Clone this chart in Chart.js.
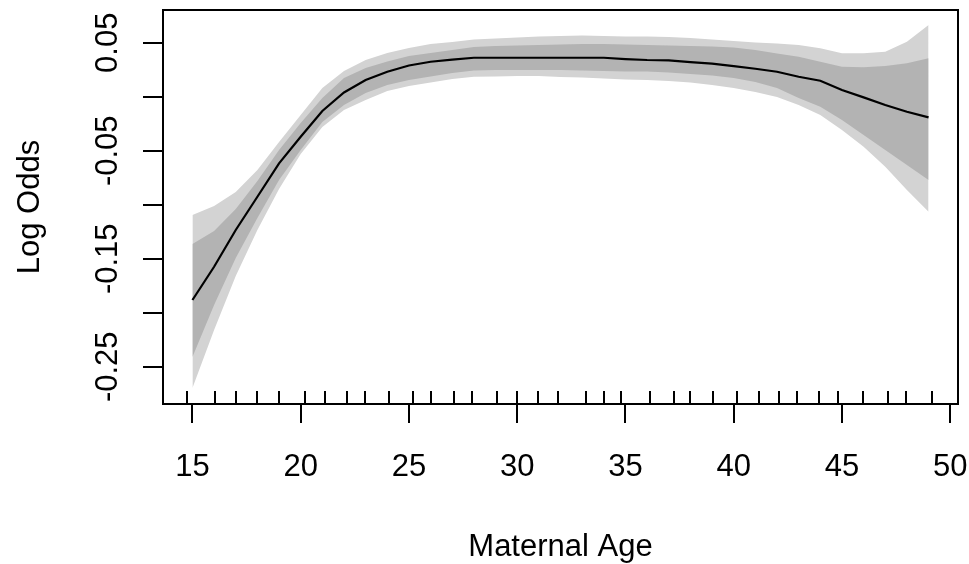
<!DOCTYPE html>
<html>
<head>
<meta charset="utf-8">
<script src="https://cdn.jsdelivr.net/npm/chart.js@4"></script>
<style>
  body { margin: 0; background: #fff; }
  #wrap { width: 969px; height: 564px; }
</style>
</head>
<body>
<div id="wrap"><canvas id="myChart" width="969" height="564"></canvas></div>
<script>
// maternal age 15..49, smooth term with two confidence bands
var ages = [15, 16, 17, 18, 19, 20, 21, 22, 23, 24, 25, 26, 27, 28, 29, 30, 31, 32,
  33, 34, 35, 36, 37, 38, 39, 40, 41, 42, 43, 44, 45, 46, 47, 48, 49];
var fit = [-0.1882, -0.1574, -0.1234, -0.0926, -0.0617, -0.0370, -0.0132, 0.0039,
  0.0155, 0.0231, 0.0289, 0.0324, 0.0344, 0.0361, 0.0361, 0.0361, 0.0361, 0.0361,
  0.0361, 0.0361, 0.0349, 0.0340, 0.0337, 0.0321, 0.0306, 0.0284, 0.0259, 0.0231,
  0.0185, 0.0148, 0.0062, -0.0006, -0.0077, -0.0139, -0.0191];
var outerUpper = [-0.1095, -0.1012, -0.0882, -0.0679, -0.0419, -0.0169, 0.0081, 0.0238,
  0.0340, 0.0405, 0.0451, 0.0488, 0.0506, 0.0530, 0.0539, 0.0548, 0.0557, 0.0562,
  0.0567, 0.0562, 0.0557, 0.0557, 0.0553, 0.0544, 0.0530, 0.0516, 0.0502, 0.0493,
  0.0479, 0.0448, 0.0402, 0.0402, 0.0417, 0.0509, 0.0664];
var innerUpper = [-0.1364, -0.1244, -0.1040, -0.0781, -0.0494, -0.0244, -0.0012, 0.0173,
  0.0266, 0.0326, 0.0377, 0.0405, 0.0432, 0.0460, 0.0469, 0.0474, 0.0479, 0.0483,
  0.0488, 0.0488, 0.0483, 0.0479, 0.0474, 0.0469, 0.0465, 0.0456, 0.0432, 0.0400,
  0.0370, 0.0324, 0.0278, 0.0272, 0.0284, 0.0309, 0.0356];
var innerLower = [-0.2410, -0.1929, -0.1494, -0.1123, -0.0771, -0.0494, -0.0234, -0.0077,
  0.0034, 0.0108, 0.0155, 0.0187, 0.0219, 0.0243, 0.0247, 0.0247, 0.0247, 0.0247,
  0.0243, 0.0238, 0.0233, 0.0233, 0.0224, 0.0210, 0.0196, 0.0173, 0.0136, 0.0081,
  -0.0012, -0.0093, -0.0216, -0.0355, -0.0494, -0.0632, -0.0771];
var outerLower = [-0.2697, -0.2160, -0.1660, -0.1234, -0.0855, -0.0531, -0.0281, -0.0123,
  -0.0031, 0.0053, 0.0099, 0.0131, 0.0164, 0.0185, 0.0187, 0.0192, 0.0192, 0.0182,
  0.0178, 0.0169, 0.0159, 0.0155, 0.0145, 0.0131, 0.0108, 0.0081, 0.0044, -0.0003,
  -0.0077, -0.0169, -0.0308, -0.0463, -0.0648, -0.0864, -0.1065];
// rug marks along the bottom (jittered ages)
var rugAges = [14.77, 16.03, 17.0, 17.97, 18.98, 20.18, 21.1, 22.12, 22.99, 24.06, 25.21,
  26.04, 27.06, 27.93, 29.09, 30.01, 30.98, 31.87, 33.2, 34.03, 34.8, 36.15, 37.22,
  37.96, 39.04, 40.15, 41.19, 42.07, 42.92, 43.96, 44.81, 45.96, 47.12, 47.96, 49.15];
var xTicks = [15, 20, 25, 30, 35, 40, 45, 50];
var yTicks = [-0.25, -0.2, -0.15, -0.1, -0.05, 0, 0.05];
var yTickLabels = ["-0.25", "", "-0.15", "", "-0.05", "", "0.05"];

function pts(vals) {
  return ages.map(function (a, i) { return { x: a, y: vals[i] }; });
}

var FONT = '31px "Liberation Sans", Arial, sans-serif';

var rAxes = {
  id: "rAxes",
  afterDraw: function (chart) {
    var ctx = chart.ctx;
    var ca = chart.chartArea;
    var xs = chart.scales.x;
    var ys = chart.scales.y;
    ctx.save();
    ctx.strokeStyle = "#000";
    ctx.fillStyle = "#000";
    ctx.lineWidth = 2;
    ctx.strokeRect(ca.left, ca.top, ca.right - ca.left, ca.bottom - ca.top);

    ctx.beginPath();
    rugAges.forEach(function (a) {
      var px = Math.round(xs.getPixelForValue(a));
      ctx.moveTo(px, ca.bottom);
      ctx.lineTo(px, ca.bottom - 13);
    });
    xTicks.forEach(function (t) {
      var px = Math.round(xs.getPixelForValue(t));
      ctx.moveTo(px, ca.bottom);
      ctx.lineTo(px, ca.bottom + 19);
    });
    yTicks.forEach(function (t) {
      var py = Math.round(ys.getPixelForValue(t));
      ctx.moveTo(ca.left, py);
      ctx.lineTo(ca.left - 20, py);
    });
    ctx.stroke();

    ctx.font = FONT;
    ctx.textAlign = "center";
    ctx.textBaseline = "alphabetic";
    xTicks.forEach(function (t) {
      ctx.fillText(String(t), xs.getPixelForValue(t), 476);
    });
    ctx.fillText("Maternal Age", (ca.left + ca.right) / 2, 556);

    yTicks.forEach(function (t, i) {
      if (!yTickLabels[i]) return;
      ctx.save();
      ctx.translate(117, ys.getPixelForValue(t));
      ctx.rotate(-Math.PI / 2);
      ctx.fillText(yTickLabels[i], 0, 0);
      ctx.restore();
    });
    ctx.save();
    ctx.translate(39, (ca.top + ca.bottom) / 2);
    ctx.rotate(-Math.PI / 2);
    ctx.fillText("Log Odds", 0, 0);
    ctx.restore();
    ctx.restore();
  }
};

var ctx = document.getElementById("myChart");
var myChart = new Chart(ctx, {
  type: "line",
  data: {
    datasets: [
      { data: pts(outerUpper), fill: "+1", backgroundColor: "#d3d3d3", borderWidth: 0, pointRadius: 0, order: 4 },
      { data: pts(outerLower), fill: false, borderWidth: 0, pointRadius: 0, order: 4 },
      { data: pts(innerUpper), fill: "+1", backgroundColor: "#b3b3b3", borderWidth: 0, pointRadius: 0, order: 2 },
      { data: pts(innerLower), fill: false, borderWidth: 0, pointRadius: 0, order: 2 },
      { data: pts(fit), fill: false, borderColor: "#000", borderWidth: 2.2, pointRadius: 0, tension: 0, order: 0 }
    ]
  },
  options: {
    responsive: false,
    animation: false,
    layout: { padding: { left: 163, right: 11, top: 10, bottom: 160 } },
    scales: {
      x: { type: "linear", min: 13.64, max: 50.36, display: false },
      y: { type: "linear", min: -0.2845, max: 0.0803, display: false }
    },
    plugins: { legend: { display: false }, tooltip: { enabled: false } }
  },
  plugins: [rAxes]
});
</script>
</body>
</html>
